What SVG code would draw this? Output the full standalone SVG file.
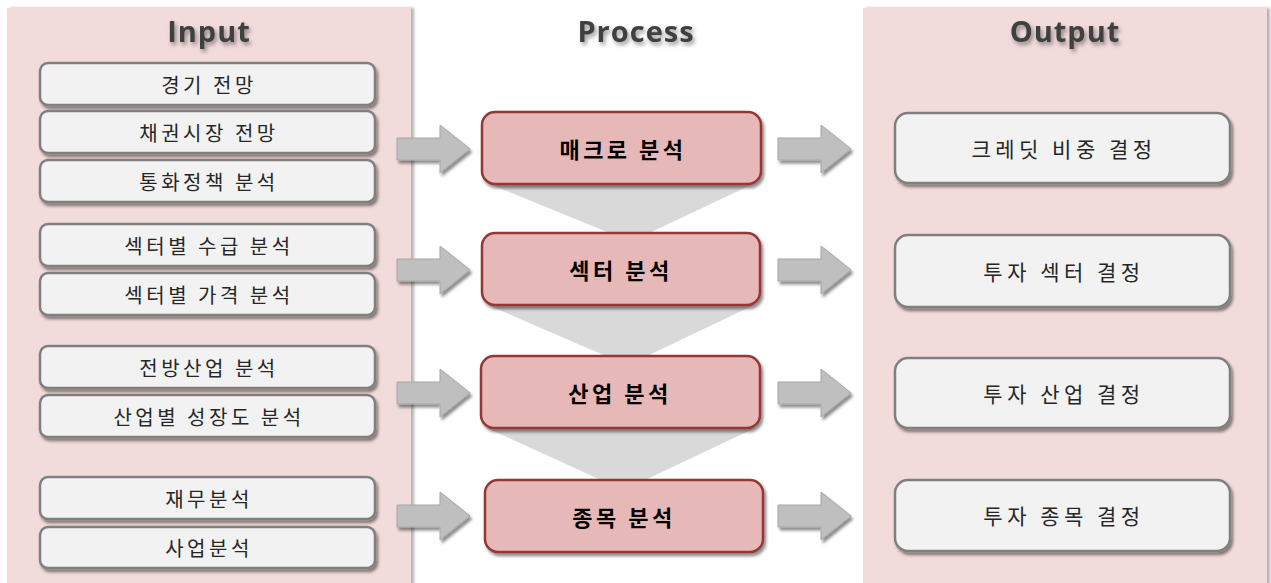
<svg xmlns="http://www.w3.org/2000/svg" width="1271" height="583" viewBox="0 0 1271 583">
<defs>
<filter id="sh" x="-10%" y="-20%" width="125%" height="150%">
<feDropShadow dx="2" dy="3" stdDeviation="1.6" flood-color="#000" flood-opacity="0.45"/>
</filter>
<filter id="psh" x="-5%" y="-5%" width="115%" height="110%">
<feDropShadow dx="3" dy="0" stdDeviation="1.5" flood-color="#000" flood-opacity="0.3"/>
</filter>
<filter id="tsh" x="-10%" y="-30%" width="130%" height="170%">
<feDropShadow dx="2" dy="3" stdDeviation="2" flood-color="#000" flood-opacity="0.4"/>
</filter>
<path id="arr" d="M0,-11 H43 V-24 L73,0 L43,24 V11 H0 Z"/>
</defs>
<style>
.panel{fill:#f2dcdb;filter:url(#psh)}
.title{font-family:"Open Sans","Liberation Sans",sans-serif;font-weight:bold;font-size:29px;fill:#404040;text-anchor:middle;letter-spacing:1px;filter:url(#tsh)}
.inbox{fill:#f2f2f2;stroke:#7f7f7f;stroke-width:2.5;filter:url(#sh)}
.outbox{fill:#f2f2f2;stroke:#7f7f7f;stroke-width:2.5;filter:url(#sh)}
.pbox{fill:#e6b9b8;stroke:#953735;stroke-width:2.5;filter:url(#sh)}
.t{font-family:"Noto Sans CJK KR","Noto Sans",sans-serif;font-size:20px;fill:#262626;text-anchor:middle;dominant-baseline:central;letter-spacing:3.5px}
.to{font-family:"Noto Sans CJK KR","Noto Sans",sans-serif;font-size:21px;fill:#262626;text-anchor:middle;dominant-baseline:central;letter-spacing:4.5px}
.tp{font-family:"Noto Sans CJK KR","Noto Sans",sans-serif;font-size:22px;font-weight:bold;fill:#000;text-anchor:middle;dominant-baseline:central;letter-spacing:3.5px}
.funnel{fill:#d9d9d9}
.ar{fill:#bfbfbf;stroke:#a6a6a6;stroke-width:1;filter:url(#sh)}
</style>
<rect width="1271" height="583" fill="#ffffff"/>
<g id="panels">
<rect class="panel" x="7" y="8" width="404" height="580"/>
<rect class="panel" x="863" y="8" width="404" height="580"/>
</g>
<g id="titles">
<text class="title" x="209" y="42">Input</text>
<text class="title" x="636" y="42">Process</text>
<text class="title" x="1065" y="42">Output</text>
</g>
<g id="connectors">
<polygon class="funnel" points="490,184 753,184 647,234 612,234"/>
<polygon class="funnel" points="488,305 754,305 645,357 608,357"/>
<polygon class="funnel" points="487,428 755,428 643,481 603,481"/>
<use href="#arr" class="ar" x="397" y="149"/>
<use href="#arr" class="ar" x="397" y="270"/>
<use href="#arr" class="ar" x="397" y="393"/>
<use href="#arr" class="ar" x="397" y="516"/>
<use href="#arr" class="ar" x="778" y="149"/>
<use href="#arr" class="ar" x="778" y="270"/>
<use href="#arr" class="ar" x="778" y="393"/>
<use href="#arr" class="ar" x="778" y="516"/>
</g>
<g id="in1"><rect class="inbox" x="40" y="63" width="335" height="42" rx="8"/><text class="t" x="209" y="84">경기 전망</text></g>
<g id="in2"><rect class="inbox" x="40" y="111" width="335" height="42" rx="8"/><text class="t" x="209" y="132">채권시장 전망</text></g>
<g id="in3"><rect class="inbox" x="40" y="160" width="335" height="42" rx="8"/><text class="t" x="209" y="181">통화정책 분석</text></g>
<g id="in4"><rect class="inbox" x="40" y="224" width="335" height="42" rx="8"/><text class="t" x="209" y="245">섹터별 수급 분석</text></g>
<g id="in5"><rect class="inbox" x="40" y="273" width="335" height="42" rx="8"/><text class="t" x="209" y="294">섹터별 가격 분석</text></g>
<g id="in6"><rect class="inbox" x="40" y="346" width="335" height="42" rx="8"/><text class="t" x="209" y="367">전방산업 분석</text></g>
<g id="in7"><rect class="inbox" x="40" y="395" width="335" height="42" rx="8"/><text class="t" x="209" y="416">산업별 성장도 분석</text></g>
<g id="in8"><rect class="inbox" x="40" y="477" width="335" height="42" rx="8"/><text class="t" x="209" y="498">재무분석</text></g>
<g id="in9"><rect class="inbox" x="40" y="527" width="335" height="41" rx="8"/><text class="t" x="209" y="547">사업분석</text></g>
<g id="p1"><rect class="pbox" x="482" y="112" width="279" height="72" rx="13"/><text class="tp" x="623" y="148">매크로 분석</text></g>
<g id="p2"><rect class="pbox" x="482" y="233" width="278" height="72" rx="13"/><text class="tp" x="621" y="269">섹터 분석</text></g>
<g id="p3"><rect class="pbox" x="481" y="356" width="279" height="72" rx="13"/><text class="tp" x="620" y="392">산업 분석</text></g>
<g id="p4"><rect class="pbox" x="485" y="480" width="278" height="72" rx="13"/><text class="tp" x="624" y="516">종목 분석</text></g>
<g id="o1"><rect class="outbox" x="895" y="113" width="335" height="70" rx="13"/><text class="to" x="1064" y="148">크레딧 비중 결정</text></g>
<g id="o2"><rect class="outbox" x="895" y="235" width="335" height="72" rx="13"/><text class="to" x="1064" y="271">투자 섹터 결정</text></g>
<g id="o3"><rect class="outbox" x="895" y="358" width="335" height="70" rx="13"/><text class="to" x="1064" y="393">투자 산업 결정</text></g>
<g id="o4"><rect class="outbox" x="895" y="480" width="335" height="71" rx="13"/><text class="to" x="1064" y="515">투자 종목 결정</text></g>
</svg>
